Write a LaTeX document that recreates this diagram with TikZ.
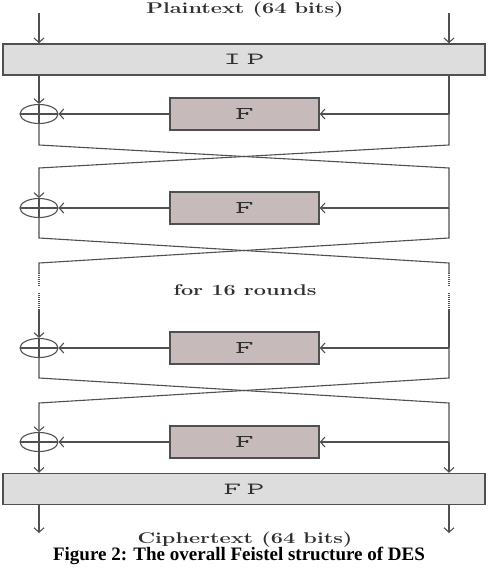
\documentclass[tikz,border=0pt]{standalone}
\usepackage{fontspec}
\newfontfamily\capfont{Liberation Serif}
\usepackage{tikz}
\usetikzlibrary{arrows.meta,shapes.geometric}
\definecolor{linea}{HTML}{505050}
\definecolor{perm}{HTML}{DDDDDD}
\definecolor{ronda}{HTML}{C7BABA}
\definecolor{texto}{HTML}{303030}
\newcommand{\ancho}[2][1.4]{\scalebox{#1}[1]{#2}}
\tikzset{
  wire/.style={draw=linea,line width=1.1pt},
  flecha/.style={wire,-{Straight Barb[length=4.5pt,width=10pt]}},
  puntos/.style={wire,dash pattern=on 1pt off 1pt},
  permbox/.style={draw=linea,fill=perm,line width=1.5pt,minimum width=482pt,minimum height=31pt,
    font=\fontsize{17}{17}\selectfont\ttfamily,text=texto},
  fbloque/.style={draw=linea,fill=ronda,line width=1.5pt,minimum width=149pt,minimum height=32pt,
    font=\fontsize{18}{18}\selectfont\ttfamily,text=texto},
  xor/.style={ellipse,draw=linea,line width=1.1pt,minimum width=38pt,minimum height=19pt,inner sep=0pt,
    path picture={\draw[wire] (path picture bounding box.west) -- (path picture bounding box.east)
      (path picture bounding box.north) -- (path picture bounding box.south);}},
  rotulo/.style={font=\fontsize{15.5}{15.5}\selectfont\bfseries,text=texto}
}

\begin{document}
\begin{tikzpicture}[x=1pt,y=-1pt]
\useasboundingbox (0,0) rectangle (491,583);
% entrada
\node[rotulo] (plain) at (245,10) {\ancho{Plaintext (64 bits)}};
\node[permbox] (ip) at (244,59.5) {\ancho[2]{I\,P}};
\coordinate (inL) at (39,13); \coordinate (inR) at (449,13);
\draw[flecha] (inL) -- (inL |- ip.north);
\draw[flecha] (inR) -- (inR |- ip.north);
% rondas
\foreach \i/\y in {1/114,2/208,3/348,4/442}{
  \node[xor] (x\i) at (39,\y) {};
  \node[fbloque] (f\i) at (244.5,\y) {\ancho[2]{F}};
  \coordinate (r\i) at (449,\y);
  \draw[flecha] (r\i) -- (f\i.east);
  \draw[flecha] (f\i.west) -- (x\i.east);
}
\draw[flecha] (ip.south -| x1) -- (x1.north);
\draw[wire] (ip.south -| r1) -- (r1);
% cruces
\foreach \a/\b/\arriba/\abajo in {1/2/145/168,3/4/378/403}{
  \draw[wire] (x\a.south) -- (39,\arriba) -- (449,\abajo) -- (r\b);
  \draw[flecha] (r\a) -- (449,\arriba) -- (39,\abajo) -- (x\b.north);
}
\draw[wire] (x2.south) -- (39,238) -- (449,263) -- (449,273);
\draw[wire] (r2) -- (449,238) -- (39,263) -- (39,273);
% 16 rondas
\foreach \c in {39,449}{
  \draw[puntos] (\c,273) -- (\c,287) (\c,293) -- (\c,310);
}
\draw[flecha] (39,310) -- (x3.north);
\draw[wire] (449,310) -- (r3);
\node[rotulo] (vueltas) at (245,290) {\ancho{for 16 rounds}};
% salida
\node[permbox] (fp) at (244,489) {\ancho[2]{F\,P}};
\draw[flecha] (x4.south) -- (x4 |- fp.north);
\draw[flecha] (r4) -- (r4 |- fp.north);
\coordinate (outL) at (39,533); \coordinate (outR) at (449,533);
\draw[flecha] (fp.south -| outL) -- (outL);
\draw[flecha] (fp.south -| outR) -- (outR);
\node[rotulo] (cipher) at (245,540) {\ancho{Ciphertext (64 bits)}};
\node[font=\capfont\fontsize{19}{19}\selectfont\bfseries] (pie) at (239,556) {Figure 2: The overall Feistel structure of DES};
\end{tikzpicture}
\end{document}
